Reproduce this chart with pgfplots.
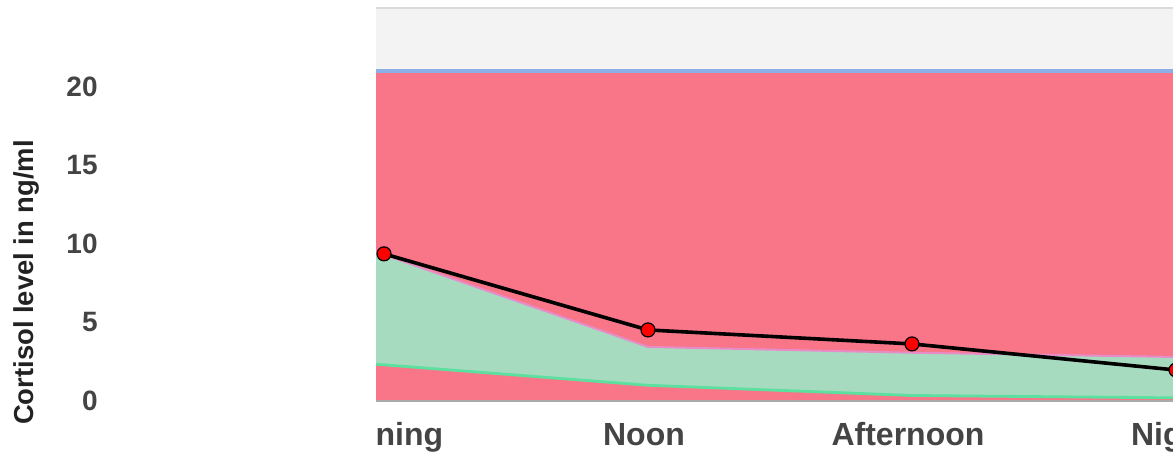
\documentclass[border=0pt]{standalone}
\usepackage{fontspec}
\setmainfont{Liberation Sans}
\usepackage{pgfplots}
\usepackage{pgfplotstable}
\pgfplotsset{compat=1.18}

\definecolor{bgGray}{RGB}{243,243,243}
\definecolor{redFill}{RGB}{249,118,137}
\definecolor{greenFill}{RGB}{166,219,192}
\definecolor{greenLine}{RGB}{92,224,160}
\definecolor{pinkEdge}{RGB}{232,140,200}
\definecolor{blueLine}{RGB}{140,175,230}
\definecolor{tickGray}{RGB}{68,68,68}
\definecolor{labelGray}{RGB}{34,34,34}
\definecolor{topGray}{RGB}{218,218,218}
\definecolor{bottomGray}{RGB}{170,170,170}

% band of the normal range (upper and lower bound)
\pgfplotstableread{
x hi lo
-0.0303 9.45 2.34
0 9.30 2.30
1 3.44 1.00
2 3.07 0.35
3 2.80 0.20
}\band

% measured cortisol level
\pgfplotstableread{
x y
0 9.36
1 4.52
2 3.63
3 1.97
}\cortisol

\begin{document}
\begin{tikzpicture}
\begin{axis}[
    name=ax,
    at={(188pt,26pt)}, anchor=south west,
    scale only axis,
    width=400pt, height=196.5pt,
    xmin=-0.0303, xmax=3,
    ymin=0, ymax=25,
    axis background/.style={fill=bgGray},
    axis line style={draw=none},
    major tick length=0pt,
    xtick={0,1,2,3},
    xticklabels={Morning,Noon,Afternoon,Night},
    ytick={0,5,10,15,20},
    /pgf/number format/assume math mode=true,
    xticklabel style={font=\fontsize{16}{19}\selectfont\bfseries, text=tickGray,
        inner sep=0pt, anchor=north, xshift=-2pt, yshift=-15pt,
        text height=0.72em, text depth=0.21em},
    yticklabel style={font=\fontsize{14}{17}\selectfont\bfseries, text=tickGray,
        inner sep=0pt, anchor=east, xshift=-139pt},
    ylabel={Cortisol level in ng/ml},
    every axis y label/.style={at={(axis description cs:-0.4375,0.3015)},
        rotate=90, anchor=center, font=\fontsize{13.7}{16}\selectfont\bfseries, text=labelGray},
]

% red area up to 21, green band on top of it, red again below the band
\addplot [draw=none, fill=redFill] coordinates {(-0.1,21) (3.1,21)} \closedcycle;
\addplot [blueLine, line width=1.8pt] coordinates {(-0.1,21) (3.1,21)};
\addplot [draw=none, fill=greenFill] table [x=x, y=hi] {\band} \closedcycle;
\addplot [draw=none, fill=redFill] table [x=x, y=lo] {\band} \closedcycle;
\addplot [pinkEdge, line width=1pt] table [x=x, y=hi] {\band};
\addplot [greenLine, line width=1.4pt] table [x=x, y=lo] {\band};

\addplot [
    black,
    line width=1.8pt,
    mark=*,
    mark size=3.5pt,
    mark options={fill=red, draw=black, line width=0.6pt},
] table [x=x, y=y] {\cortisol};

\end{axis}
\draw [topGray, line width=1.2pt] (ax.north west) -- (ax.north east);
\draw [bottomGray, line width=1pt] (ax.south west) -- (ax.south east);
% the chart is cut at the left edge of the plot: hide the part of the first label
\fill [white] (52pt,0) rectangle (188.3pt,24pt);
\pgfresetboundingbox
\path [use as bounding box] (0,0) rectangle (586.5pt,226.5pt);
\end{tikzpicture}
\end{document}
